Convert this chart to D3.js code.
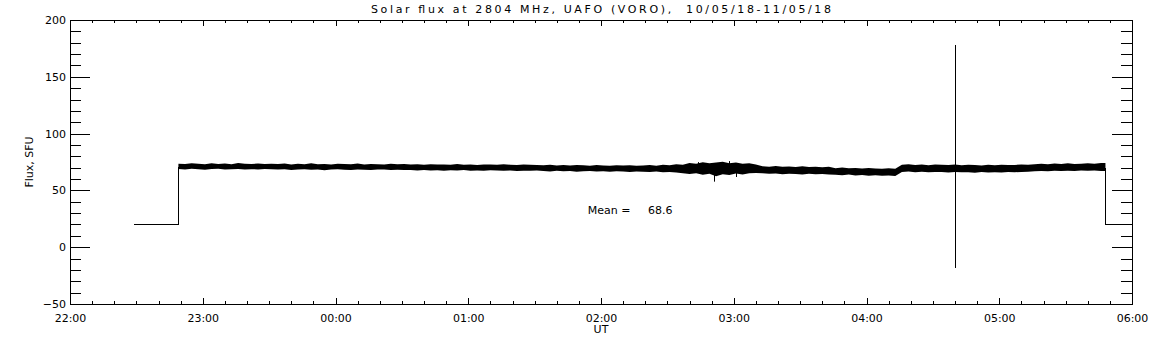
<!DOCTYPE html>
<html>
<head>
<meta charset="utf-8">
<script src="https://cdn.jsdelivr.net/npm/d3@7"></script>
<style>
body{margin:0;background:#fff}
svg text{font-family:"DejaVu Sans",sans-serif;font-size:11px;fill:#000}
</style>
</head>
<body>
<div id="chart"></div>
<script>
const title = "Solar flux at 2804 MHz, UAFO (VORO),  10/05/18-11/05/18";
const yTicks = [-50, 0, 50, 100, 150, 200];
const xLabel = "UT";
const yLabel = "Flux, SFU";

// noisy band, one sample every 3 minutes from 22:49
const bandStart = "22:49";
const bandStepMin = 3;
const bandEnd = "05:48";
const fluxHi = [
  73.5,73.2,74.0,73.4,73.1,73.8,73.3,73.6,73.0,74.1,73.4,73.2,73.7,73.3,73.5,
  73.2,73.6,72.9,73.4,73.1,73.8,73.0,73.3,72.8,73.5,73.2,73.0,73.6,72.9,73.3,73.1,72.8,73.4,73.0,73.2,
  72.8,73.1,72.6,73.0,72.7,72.9,72.5,73.2,72.6,72.8,72.4,72.9,72.7,72.5,73.0,72.6,72.3,72.8,72.5,72.4,
  72.2,72.5,72.0,72.4,71.9,72.3,72.1,71.8,72.4,72.0,71.7,72.2,71.9,72.1,71.6,72.0,72.3,71.8,72.6,72.2,
  73.0,72.6,74.2,73.5,74.8,73.9,74.5,75.2,74.0,74.6,73.4,73.8,72.9,
  71.2,70.8,71.5,70.9,71.1,70.6,71.3,70.7,70.9,70.4,70.8,
  69.6,70.1,69.4,69.8,69.2,69.7,69.3,69.0,69.5,69.1,
  72.6,73.0,72.4,72.8,72.2,72.9,72.5,72.3,72.7,72.1,72.6,72.4,72.0,72.5,72.2,72.6,72.3,
  72.4,72.8,72.5,73.1,73.4,73.0,73.6,73.3,73.8,73.2,73.5,73.9,73.4,74.2
];
const fluxLo = [
  68.9,68.5,69.1,68.7,68.2,68.8,69.0,68.4,68.6,68.9,68.3,68.7,68.5,68.9,68.6,
  68.3,68.6,68.0,68.4,68.7,68.1,68.5,67.8,68.3,68.6,68.2,68.0,68.4,68.1,67.9,68.3,68.5,68.0,68.2,67.9,
  67.9,67.6,68.0,67.5,67.8,67.3,67.7,67.5,67.9,67.4,67.6,67.2,67.7,67.5,67.3,67.6,67.1,67.4,67.2,67.5,
  67.0,66.7,67.2,66.8,67.0,66.5,66.9,67.1,66.6,66.8,66.4,66.9,66.6,66.3,66.7,66.5,66.2,66.6,66.0,66.3,
  65.8,65.2,64.5,65.0,63.8,64.6,62.5,64.2,63.6,64.8,64.0,65.1,65.4,
  65.0,64.6,64.9,64.3,64.7,64.5,64.1,64.6,64.2,64.4,63.9,
  63.8,63.4,63.9,63.2,63.5,63.0,63.4,62.8,63.1,62.6,
  66.2,66.6,66.0,66.4,65.9,66.3,66.1,65.7,66.2,65.9,66.0,65.6,66.1,65.8,66.0,65.7,66.2,
  66.0,66.3,66.5,66.8,67.1,66.9,67.3,67.0,67.4,67.1,67.5,67.2,67.6,67.0
];
// single glitches [time, low, high]
const glitches = [["02:51", 57.7, 70], ["03:01", 61.8, 68], ["02:58", 68, 75.8], ["02:44", 66, 74.9]];
const spike = ["04:40", -18.3, 178];
// receiver off level before/after the observation
const offBefore = [["22:29", 20], ["22:49", 20], ["22:49", 71]];
const offAfter = [["05:48", 70], ["05:48", 20], ["06:00", 20]];
const meanValue = 68.6;

function t(s) {
  const [h, m] = s.split(":").map(Number);
  return new Date(Date.UTC(2018, 4, h >= 12 ? 10 : 11, h, m));
}

const width = 1152, height = 345;
const svg = d3.select("#chart").append("svg").attr("width", width).attr("height", height);

const x = d3.scaleUtc().domain([t("22:00"), t("06:00")]).range([70, 1132]);
const y = d3.scaleLinear().domain([-50, 200]).range([304, 20]);

function styleAxis(g) {
  g.selectAll("path,line").attr("stroke", "#000").attr("shape-rendering", "crispEdges");
  g.selectAll("text").attr("fill", "#000").style("font-size", "11px").style("font-family", "DejaVu Sans");
}

// x axes
svg.append("g").attr("transform", "translate(0,304)")
  .call(d3.axisBottom(x).ticks(d3.utcMinute.every(10)).tickFormat("").tickSizeInner(-3).tickSizeOuter(0))
  .call(styleAxis);
svg.append("g").attr("transform", "translate(0,304)")
  .call(d3.axisBottom(x).ticks(d3.utcHour.every(1)).tickFormat(d3.utcFormat("%H:%M")).tickSizeInner(-6).tickSizeOuter(0).tickPadding(10))
  .call(styleAxis);
svg.append("g").attr("transform", "translate(0,20)")
  .call(d3.axisTop(x).ticks(d3.utcMinute.every(10)).tickFormat("").tickSizeInner(-3).tickSizeOuter(0))
  .call(styleAxis);
svg.append("g").attr("transform", "translate(0,20)")
  .call(d3.axisTop(x).ticks(d3.utcHour.every(1)).tickFormat("").tickSizeInner(-6).tickSizeOuter(0))
  .call(styleAxis);

// y axes
svg.append("g").attr("transform", "translate(70,0)")
  .call(d3.axisLeft(y).tickValues(d3.range(-50, 201, 10)).tickFormat("").tickSizeInner(-11).tickSizeOuter(0))
  .call(styleAxis);
svg.append("g").attr("transform", "translate(70,0)")
  .call(d3.axisLeft(y).tickValues(yTicks).tickFormat(d => d < 0 ? "\u2212" + (-d) : d).tickSizeInner(-20).tickSizeOuter(0).tickPadding(4))
  .call(styleAxis);
svg.append("g").attr("transform", "translate(1132,0)")
  .call(d3.axisRight(y).tickValues(d3.range(-50, 201, 10)).tickFormat("").tickSizeInner(-11).tickSizeOuter(0))
  .call(styleAxis);
svg.append("g").attr("transform", "translate(1132,0)")
  .call(d3.axisRight(y).tickValues(yTicks).tickFormat("").tickSizeInner(-20).tickSizeOuter(0))
  .call(styleAxis);

// data
const t0 = t(bandStart).getTime();
const band = fluxHi.map((hi, i) => ({ t: new Date(t0 + i * bandStepMin * 60000), hi: hi, lo: fluxLo[i] }));
band.push({ t: t(bandEnd), hi: fluxHi[fluxHi.length - 1], lo: fluxLo[fluxLo.length - 1] });

svg.append("path")
  .datum(band)
  .attr("d", d3.area().x(d => x(d.t)).y0(d => y(d.lo)).y1(d => y(d.hi)))
  .attr("fill", "#000");

const line = d3.line().x(d => x(t(d[0]))).y(d => y(d[1]));
[offBefore, offAfter].forEach(seg => {
  svg.append("path").datum(seg).attr("d", line)
    .attr("fill", "none").attr("stroke", "#000").attr("stroke-width", 1.2).attr("shape-rendering", "crispEdges");
});

svg.selectAll(".glitch").data(glitches.concat([spike])).enter().append("line")
  .attr("x1", d => Math.round(x(t(d[0]))) + 0.5).attr("x2", d => Math.round(x(t(d[0]))) + 0.5)
  .attr("y1", d => y(d[1])).attr("y2", d => y(d[2]))
  .attr("stroke", "#000").attr("stroke-width", 1);

// texts
svg.append("text").attr("x", 601).attr("y", 13).attr("text-anchor", "middle")
  .attr("textLength", 460).attr("lengthAdjust", "spacing")
  .style("white-space", "pre").text(title);

svg.append("text").attr("x", 601).attr("y", 333).attr("text-anchor", "middle").text(xLabel);

svg.append("text").attr("transform", "translate(33,162) rotate(-90)").attr("text-anchor", "middle").text(yLabel);

svg.append("text").attr("x", x(t("01:54"))).attr("y", y(29))
  .style("white-space", "pre").text("Mean =     " + meanValue.toFixed(1));
</script>
</body>
</html>
